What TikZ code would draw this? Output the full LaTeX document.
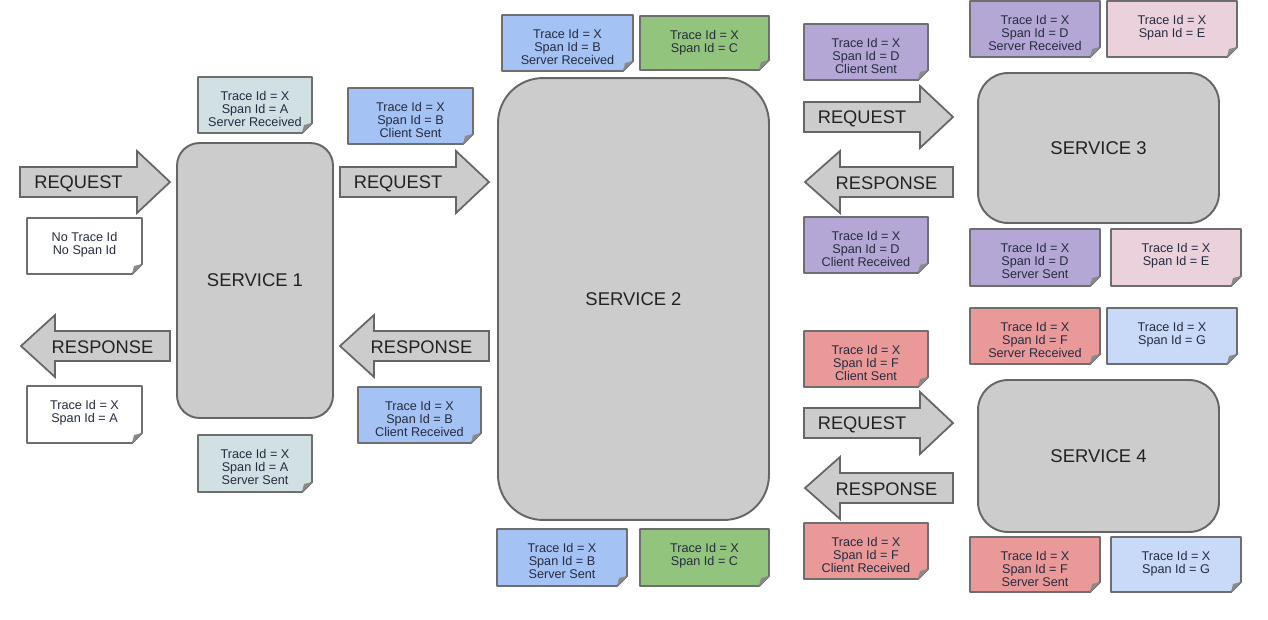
\documentclass[tikz,border=0pt]{standalone}
\usepackage{fontspec}
\setmainfont{Liberation Sans}
\definecolor{boxgray}{HTML}{CCCCCC}
\definecolor{edgegray}{HTML}{666666}
\definecolor{notegray}{HTML}{6E6E6E}
\definecolor{foldgray}{HTML}{8A8A8A}
\definecolor{txtdark}{HTML}{222222}
\definecolor{notetxt}{HTML}{262B40}
\definecolor{cA}{HTML}{D0E0E3}
\definecolor{cB}{HTML}{A4C2F4}
\definecolor{cC}{HTML}{93C47D}
\definecolor{cD}{HTML}{B4A7D6}
\definecolor{cE}{HTML}{EAD1DC}
\definecolor{cF}{HTML}{EA9999}
\definecolor{cG}{HTML}{C9DAF8}
\tikzset{
 service/.style={draw=edgegray, line width=1.1pt, fill=boxgray, text=txtdark,
   font=\fontsize{10.5}{12}\selectfont},
 notetext/.style={inner sep=0pt, align=center, text=notetxt,
   font=\fontsize{7.2}{7.45}\selectfont},
 notebody/.style={draw=notegray, line width=1.1pt, line join=round},
 blockarrow/.style={draw=edgegray, line width=1pt, fill=boxgray, line join=miter},
 arrowtext/.style={text=txtdark, font=\fontsize{10.4}{12}\selectfont, inner sep=0pt},
}
% name, x1, y1, x2, y2, colour, text
\newcommand\notebox[7]{%
  \draw[notebody, fill=#6] (#2,#3) -- (#4,#3) -- (#4,#5-10) -- (#4-10,#5) -- (#2,#5) -- cycle;
  \fill[foldgray] (#4,#5-10) -- (#4-10,#5) -- (#4-8,#5-8) -- cycle;
  \node[notetext, anchor=north] (#1) at ({(#2+#4)/2},#3+14) {#7};
}
% name, x body start, x head base, x tip, y centre, label
\newcommand\rightarrowbox[6]{%
  \draw[blockarrow] (#2,#5-15) -- (#3,#5-15) -- (#3,#5-31) -- (#4,#5) -- (#3,#5+31)
     -- (#3,#5+15) -- (#2,#5+15) -- cycle;
  \node[arrowtext] (#1) at ({(#2+#3)/2},#5+2) {#6};
}
% name, x tip, x head base, x body end, y centre, label
\newcommand\leftarrowbox[6]{%
  \draw[blockarrow] (#4,#5-15) -- (#3,#5-15) -- (#3,#5-31) -- (#2,#5) -- (#3,#5+31)
     -- (#3,#5+15) -- (#4,#5+15) -- cycle;
  \node[arrowtext] (#1) at ({(#3+#4)/2-10},#5+1) {#6};
}
\begin{document}
\begin{tikzpicture}[x=0.02cm,y=-0.02cm]
\useasboundingbox (0,0) rectangle (1268,619);
\fill[white] (0,0) rectangle (1268,619);

% services
\node[service, rounded corners=0.45cm, minimum width=3.12cm, minimum height=5.5cm] (s1) at (255,280.5) {SERVICE 1};
\node[service, rounded corners=0.9cm, minimum width=5.42cm, minimum height=8.84cm] (s2) at (633.5,299) {SERVICE 2};
\node[service, rounded corners=0.6cm, minimum width=4.82cm, minimum height=3.0cm] (s3) at (1098.5,148) {SERVICE 3};
\node[service, rounded corners=0.6cm, minimum width=4.82cm, minimum height=3.04cm] (s4) at (1098.5,456) {SERVICE 4};

% block arrows
\rightarrowbox{req1}{20}{137}{170}{182}{REQUEST}
\leftarrowbox{resp1}{21}{55}{170}{346}{RESPONSE}
\rightarrowbox{req2}{340}{456}{489}{182}{REQUEST}
\leftarrowbox{resp2}{340}{374}{489}{346}{RESPONSE}
\rightarrowbox{req3}{804}{920}{953}{117}{REQUEST}
\leftarrowbox{resp3}{805}{840}{953}{182}{RESPONSE}
\rightarrowbox{req4}{804}{920}{953}{423}{REQUEST}
\leftarrowbox{resp4}{805}{840}{953}{488}{RESPONSE}

% notes around service 1
\notebox{nAsr}{198}{77}{312}{133}{cA}{Trace Id = X\\Span Id = A\\Server Received}
\notebox{nnone}{27}{218}{142}{274}{white}{No Trace Id\\No Span Id}
\notebox{nAw}{27}{386}{142}{443}{white}{Trace Id = X\\Span Id = A}
\notebox{nAss}{198}{435}{312}{492}{cA}{Trace Id = X\\Span Id = A\\Server Sent}

% notes around service 2
\notebox{nBcs}{348}{88}{473}{144}{cB}{Trace Id = X\\Span Id = B\\Client Sent}
\notebox{nBsr}{502}{15}{633}{71}{cB}{Trace Id = X\\Span Id = B\\Server Received}
\notebox{nCt}{640}{16}{769}{70}{cC}{Trace Id = X\\Span Id = C}
\notebox{nBcr}{358}{387}{481}{443}{cB}{Trace Id = X\\Span Id = B\\Client Received}
\notebox{nBss}{497}{529}{627}{586}{cB}{Trace Id = X\\Span Id = B\\Server Sent}
\notebox{nCb}{640}{529}{769}{586}{cC}{Trace Id = X\\Span Id = C}

% notes around service 3
\notebox{nDcs}{804}{24}{928}{80}{cD}{Trace Id = X\\Span Id = D\\Client Sent}
\notebox{nDsr}{970}{1}{1100}{57}{cD}{Trace Id = X\\Span Id = D\\Server Received}
\notebox{nEt}{1107}{1}{1237}{57}{cE}{Trace Id = X\\Span Id = E}
\notebox{nDcr}{804}{217}{928}{273}{cD}{Trace Id = X\\Span Id = D\\Client Received}
\notebox{nDss}{970}{229}{1100}{286}{cD}{Trace Id = X\\Span Id = D\\Server Sent}
\notebox{nEb}{1111}{229}{1241}{286}{cE}{Trace Id = X\\Span Id = E}

% notes around service 4
\notebox{nFcs}{804}{331}{928}{387}{cF}{Trace Id = X\\Span Id = F\\Client Sent}
\notebox{nFsr}{970}{308}{1100}{364}{cF}{Trace Id = X\\Span Id = F\\Server Received}
\notebox{nGt}{1107}{308}{1237}{364}{cG}{Trace Id = X\\Span Id = G}
\notebox{nFcr}{804}{523}{928}{579}{cF}{Trace Id = X\\Span Id = F\\Client Received}
\notebox{nFss}{970}{537}{1100}{592}{cF}{Trace Id = X\\Span Id = F\\Server Sent}
\notebox{nGb}{1111}{537}{1241}{592}{cG}{Trace Id = X\\Span Id = G}
\end{tikzpicture}
\end{document}
